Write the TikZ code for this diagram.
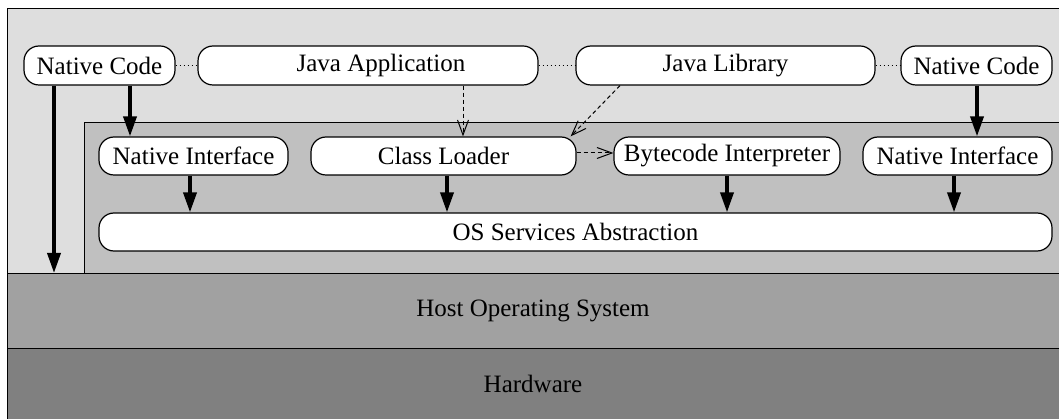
\documentclass[tikz,border=0pt]{standalone}
\usepackage{fontspec}
\setmainfont{Liberation Serif}
\usetikzlibrary{arrows.meta}
\definecolor{vmgray}{HTML}{DEDEDE}
\definecolor{coregray}{HTML}{C0C0C0}
\definecolor{osgray}{HTML}{A1A1A1}
\definecolor{hwgray}{HTML}{808080}
\tikzset{
  layer/.style={draw=black, line width=1.4pt, anchor=north west, inner sep=0pt},
  pill/.style={draw=black, fill=white, line width=1.2pt, rounded corners=15pt,
    minimum height=38pt, inner sep=0pt, font=\fontsize{25}{30}\selectfont},
  label/.style={font=\fontsize{25}{30}\selectfont},
  callarrow/.style={line width=3.6pt, -{Triangle[length=20pt,width=13pt]}},
  loadarrow/.style={line width=1pt, dash pattern=on 4pt off 3pt,
    -{Straight Barb[length=15pt,width=11pt,line width=1pt]}},
  peer/.style={line width=1.2pt, dash pattern=on 1.5pt off 2.5pt}
}
\begin{document}
\begin{tikzpicture}[x=1pt,y=-1pt]
\useasboundingbox (0,0) rectangle (1059,419);
% stacked layers
\node[layer, fill=vmgray, minimum width=1056pt, minimum height=265pt] (vm) at (7,8) {};
\node[layer, fill=coregray, minimum width=979pt, minimum height=151pt] (core) at (84,122) {};
\node[layer, fill=osgray, minimum width=1056pt, minimum height=75pt] (host) at (7,273) {};
\node[layer, fill=hwgray, minimum width=1056pt, minimum height=75pt] (hw) at (7,348) {};
\node[label] (hosttxt) at (533,311) {Host Operating System};
\node[label] (hwtxt) at (533,384) {Hardware};

% top row
\node[pill, minimum width=151pt, minimum height=39pt] (nc1) at (99.5,65.5) {Native Code};
\node[pill, minimum width=340pt, minimum height=39pt] (ja) at (368,65.5) {\hspace*{26pt}Java Application};
\node[pill, minimum width=299pt, minimum height=39pt] (jl) at (725.5,65.5) {Java Library};
\node[pill, minimum width=151pt, minimum height=39pt] (nc2) at (976.5,65.5) {Native Code};

% runtime components
\node[pill, minimum width=189pt] (ni1) at (193.5,156) {Native Interface};
\node[pill, minimum width=265pt] (cl) at (443.5,156) {Class Loader};
\node[pill, minimum width=226pt] (bi) at (727,156) {Bytecode Interpreter};
\node[pill, minimum width=189pt] (ni2) at (957.5,156) {Native Interface};
\node[pill, minimum width=953pt] (os) at (575.5,232) {OS Services Abstraction};

% peer links
\draw[peer] (nc1.east) -- (ja.west);
\draw[peer] (ja.east) -- (jl.west);
\draw[peer] (jl.east) -- (nc2.west);

% calls
\draw[callarrow] ([xshift=-45.5pt]nc1.south) -- ([xshift=-45.5pt]nc1.south |- host.north);
\draw[callarrow] ([xshift=30.5pt]nc1.south) -- ([xshift=30.5pt]nc1.south |- ni1.north);
\draw[callarrow] ([xshift=0.5pt]nc2.south) -- ([xshift=0.5pt]nc2.south |- ni2.north);
\draw[callarrow] ([xshift=-3.5pt]ni1.south) -- ([xshift=-3.5pt]ni1.south |- os.north);
\draw[callarrow] ([xshift=3.5pt]cl.south) -- ([xshift=3.5pt]cl.south |- os.north);
\draw[callarrow] (bi.south) -- (bi.south |- os.north);
\draw[callarrow] ([xshift=-3.5pt]ni2.south) -- ([xshift=-3.5pt]ni2.south |- os.north);

% class loading
\draw[loadarrow] ([xshift=95pt]ja.south) -- ([xshift=95pt]ja.south |- cl.north);
\draw[loadarrow] ([xshift=-105.5pt]jl.south) -- ([xshift=-6pt]cl.north east);
\draw[loadarrow] ([yshift=3pt]cl.east) -- ([yshift=3pt]bi.west);
\end{tikzpicture}
\end{document}
